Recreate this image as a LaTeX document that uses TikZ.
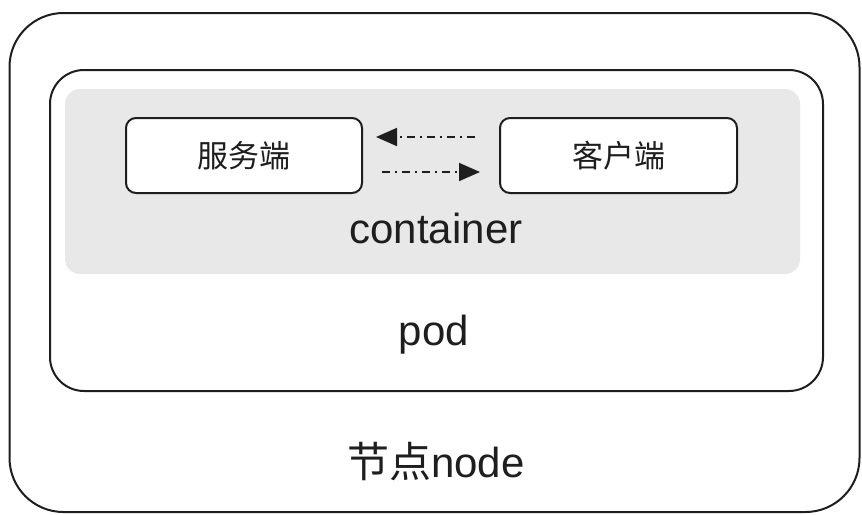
\documentclass[tikz,border=0pt]{standalone}
\usepackage{fontspec}
\setmainfont{Liberation Sans}
\newfontfamily\cjk{Noto Sans CJK SC}
\usetikzlibrary{arrows.meta}
\definecolor{ink}{HTML}{1E1E1E}
\definecolor{graybg}{HTML}{E8E8E8}
\begin{document}
\begin{tikzpicture}[x=1pt,y=-1pt,
  frame/.style={draw=ink, line width=2pt, fill=white, inner sep=0pt, outer sep=0pt},
  bigtext/.style={text=ink, font=\fontsize{42}{46}\selectfont, inner sep=0pt, anchor=base},
  boxtext/.style={text=ink, font=\cjk\fontsize{31}{34}\selectfont, inner sep=0pt},
  flow/.style={draw=ink, line width=1.8pt, dash pattern=on 8pt off 5pt on 2pt off 5pt, -{Triangle[length=21pt,width=18pt]}}
]
\useasboundingbox (0,0) rectangle (862,514);
\node[frame, rounded corners=54pt, minimum width=850pt, minimum height=499pt] (outer) at (434.5,262.5) {};
\node[frame, rounded corners=34pt, minimum width=773pt, minimum height=321pt] (pod) at (436.5,230.5) {};
\node[fill=graybg, rounded corners=15pt, minimum width=735pt, minimum height=185pt, inner sep=0pt] (container) at (432.5,181.5) {};
\node[frame, rounded corners=10pt, minimum width=236pt, minimum height=75pt] (server) at (244,155.5) {};
\node[frame, rounded corners=10pt, minimum width=237pt, minimum height=75pt] (client) at (618.5,155.5) {};
\node[boxtext] (serverlabel) at (server.center) {服务端};
\node[boxtext] (clientlabel) at (client.center) {客户端};
\node[bigtext] (containerlabel) at (436,243) {container};
\node[bigtext] (podlabel) at (434,345) {pod};
\node[bigtext] (nodelabel) at (436,477) {{\cjk 节点}node};
\coordinate (a1s) at (475,137);
\coordinate (a1e) at (376,137);
\coordinate (a2s) at (382,172);
\coordinate (a2e) at (480,172);
\draw[flow] (a1s) -- (a1e);
\draw[flow] (a2s) -- (a2e);
\end{tikzpicture}
\end{document}
